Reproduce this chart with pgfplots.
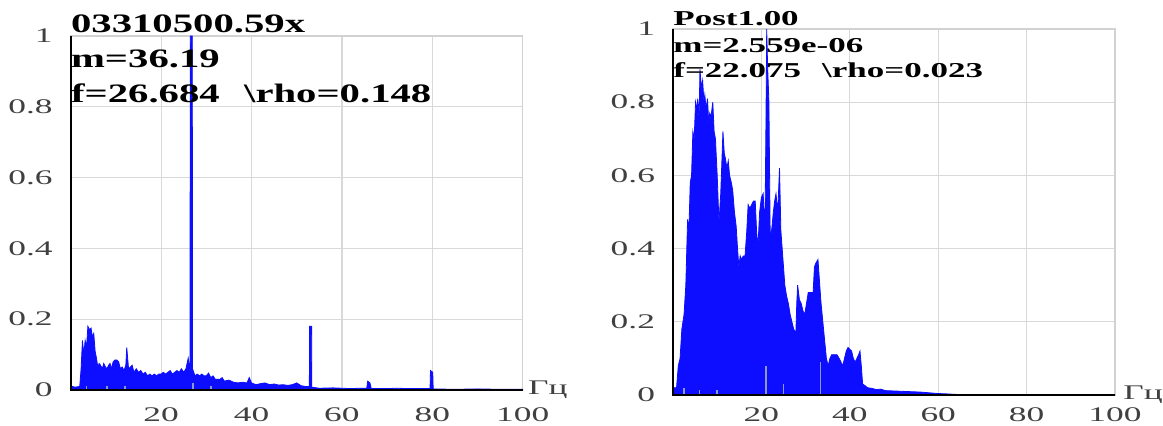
\documentclass[border=0pt]{standalone}
\usepackage{fontspec}
\setmainfont{Liberation Serif}
\usepackage{graphicx}
\usepackage{pgfplots}
\pgfplotsset{compat=1.18}
\newcommand\sx[1]{\scalebox{1.7}[1]{#1}}
\definecolor{sblue}{rgb}{0.05,0.05,1}
\definecolor{lblue}{rgb}{0.55,0.6,0.8}
\pgfplotsset{myax/.style={scale only axis, anchor=south west,
  xmin=0,xmax=100,ymin=0,ymax=1,
  xtick={0,20,40,60,80,100}, xticklabels={,\sx{20},\sx{40},\sx{60},\sx{80},\sx{100}},
  ytick={0,0.2,0.4,0.6,0.8,1}, yticklabels={\sx{0},\sx{0.2},\sx{0.4},\sx{0.6},\sx{0.8},\sx{1}},
  grid=major, major grid style={gray!30, line width=0.6pt},
  axis line style={gray!35, line width=0.6pt}, major tick length=0pt,
  tick label style={font=\fontsize{10.4}{12}\selectfont, text=black!75},
  yticklabel style={xshift=-5.5pt},
  clip=false}}
\begin{document}
\begin{tikzpicture}
\useasboundingbox (0,0) rectangle (581.5pt,212.5pt);
% ---------- left ----------
\begin{axis}[myax, at={(35.35pt,17.5pt)}, width=226pt, height=177pt, xticklabel style={yshift=-5.5pt}]
\addplot[draw=sblue, fill=sblue, line width=0.4pt] table {
x y
0 0.015
0.3 0.01
1 0.008
2 0.01
2.3 0.06
2.6 0.14
2.9 0.10
3.2 0.14
3.5 0.12
3.8 0.18
4.2 0.17
4.5 0.175
4.8 0.15
5.1 0.16
5.4 0.11
5.7 0.09
6.0 0.065
6.3 0.075
6.6 0.07
7.0 0.06
7.3 0.075
7.7 0.065
8.0 0.06
8.4 0.07
8.7 0.075
9.0 0.06
9.4 0.08
9.8 0.085
10.2 0.085
10.6 0.08
11.0 0.06
11.4 0.065
11.8 0.055
12.2 0.07
12.4 0.12
12.8 0.06
13.2 0.065
13.6 0.07
14.0 0.05
14.5 0.06
15.0 0.05
15.5 0.055
16.0 0.045
16.5 0.05
17.0 0.04
17.5 0.045
18.0 0.04
18.5 0.045
19.0 0.04
19.5 0.045
20.0 0.045
20.5 0.05
21.0 0.045
21.5 0.05
22.0 0.055
22.5 0.045
23.0 0.05
23.5 0.055
24.0 0.05
24.5 0.06
25.0 0.05
25.5 0.06
26.0 0.09
26.4 0.05
26.45 1.0
26.9 1.0
26.95 0.06
27.5 0.04
28.0 0.045
28.5 0.04
29.0 0.045
29.5 0.04
30.0 0.04
30.5 0.048
31.0 0.035
31.5 0.04
32.0 0.03
33.0 0.03
33.5 0.035
34.0 0.025
35.0 0.028
36.0 0.022
37.0 0.02
38.0 0.022
39.0 0.02
39.5 0.035
40.0 0.02
41.0 0.015
42.0 0.018
43.0 0.02
44.0 0.015
45.0 0.017
46.0 0.014
47.0 0.015
48.0 0.013
49.0 0.015
50.0 0.02
51.0 0.012
52.0 0.01
52.8 0.01
52.85 0.18
53.3 0.18
53.35 0.008
55 0.005
58 0.006
60 0.005
62 0.004
64 0.005
65.5 0.005
65.7 0.025
66.2 0.02
66.5 0.004
70 0.004
72 0.005
75 0.004
79.5 0.004
79.6 0.055
80.1 0.05
80.2 0.003
85 0.002
90 0.003
95 0.002
100 0.002
} \closedcycle;
\addplot[ycomb, draw=lblue, line width=0.8pt] table {
x y
3.5 0.012
8 0.01
12 0.01
27 0.02
31 0.01
};
\draw[black, line width=1.1pt] (rel axis cs:0,1) -- (rel axis cs:0,0) -- (rel axis cs:1,0);
\node[anchor=west, inner sep=0, font=\fontsize{10.4}{12}\selectfont, text=black!75] at ([xshift=2.5pt]rel axis cs:1,0) {\sx{Гц}};
\node[anchor=base west, inner sep=0, font=\bfseries\fontsize{13.3}{15}\selectfont] at ([yshift=2pt]rel axis cs:0,1) {\scalebox{1.53}[1]{03310500.59x}};
\node[anchor=base west, inner sep=0, font=\bfseries\fontsize{13.3}{15}\selectfont] at ([yshift=-15.5pt]rel axis cs:0,1) {\scalebox{1.53}[1]{m=36.19}};
\node[anchor=base west, inner sep=0, font=\bfseries\fontsize{13.3}{15}\selectfont] at ([yshift=-33pt]rel axis cs:0,1) {\scalebox{1.53}[1]{f=26.684\hspace{0.6em}\textbackslash rho=0.148}};
\end{axis}
% ---------- right ----------
\begin{axis}[myax, at={(336.5pt,15pt)}, width=221pt, height=183pt, xticklabel style={yshift=-3pt}]
\addplot[draw=sblue, fill=sblue, line width=0.4pt] table {
x y
0 0.02
0.8 0.02
1.2 0.08
1.6 0.1
2.0 0.18
2.5 0.22
2.9 0.3
3.3 0.48
3.6 0.45
3.9 0.58
4.2 0.6
4.5 0.72
4.8 0.7
5.1 0.8
5.4 0.78
5.6 0.81
5.9 0.75
6.1 0.89
6.4 0.84
6.7 0.86
7.0 0.8
7.2 0.82
7.5 0.78
7.8 0.81
8.1 0.74
8.3 0.77
8.6 0.76
9.0 0.8
9.3 0.72
9.6 0.7
10.0 0.6
10.4 0.47
10.8 0.55
11.3 0.72
11.6 0.66
11.8 0.65
12.2 0.62
12.5 0.64
12.8 0.6
13.2 0.58
13.5 0.56
13.9 0.5
14.3 0.46
14.6 0.4
14.9 0.35
15.2 0.38
15.5 0.37
15.9 0.38
16.3 0.38
16.7 0.45
17.0 0.52
17.4 0.51
17.8 0.52
18.2 0.53
18.6 0.53
18.9 0.45
19.2 0.4
19.6 0.5
20.0 0.54
20.4 0.55
20.8 0.45
21.0 0.7
21.2 1.0
21.4 0.9
21.7 0.8
22.0 0.42
22.4 0.46
22.7 0.5
23.0 0.53
23.3 0.55
23.7 0.5
24.1 0.62
24.4 0.45
24.7 0.4
25.0 0.35
25.3 0.3
25.7 0.27
26.1 0.25
26.5 0.22
26.9 0.2
27.3 0.18
27.8 0.17
28.0 0.25
28.2 0.3
28.6 0.26
29.0 0.25
29.4 0.23
29.8 0.22
30.2 0.25
30.6 0.28
31.2 0.28
31.7 0.28
32.0 0.35
32.3 0.36
32.8 0.37
33.2 0.3
33.5 0.25
33.9 0.2
34.3 0.15
34.7 0.1
35.1 0.08
35.5 0.1
35.9 0.11
36.5 0.11
37.1 0.11
37.6 0.1
38.0 0.09
38.4 0.08
38.8 0.1
39.2 0.12
39.6 0.13
40.0 0.125
40.4 0.12
40.8 0.1
41.2 0.09
41.6 0.1
42.0 0.11
42.3 0.12
42.6 0.08
42.9 0.03
43.5 0.025
44 0.02
45 0.018
46 0.015
47 0.016
48 0.012
50 0.011
52 0.01
54 0.009
56 0.008
58 0.006
60 0.004
62 0.003
65 0.001
70 0.0005
100 0
} \closedcycle;
\addplot[ycomb, draw=lblue, line width=0.8pt] table {
x y
2.5 0.02
6 0.015
10 0.015
21 0.08
25 0.03
33.4 0.09
};
\draw[black, line width=1.1pt] (rel axis cs:0,1) -- (rel axis cs:0,0) -- (rel axis cs:1,0);
\node[anchor=west, inner sep=0, font=\fontsize{10.4}{12}\selectfont, text=black!75] at ([xshift=4pt]rel axis cs:1,0) {\sx{Гц}};
\node[anchor=base west, inner sep=0, font=\bfseries\fontsize{10.6}{12}\selectfont] at ([yshift=2pt]rel axis cs:0,1) {\scalebox{1.65}[1]{Post1.00}};
\node[anchor=base west, inner sep=0, font=\bfseries\fontsize{10.6}{12}\selectfont] at ([yshift=-11.5pt]rel axis cs:0,1) {\scalebox{1.65}[1]{m=2.559e-06}};
\node[anchor=base west, inner sep=0, font=\bfseries\fontsize{10.6}{12}\selectfont] at ([yshift=-24pt]rel axis cs:0,1) {\scalebox{1.65}[1]{f=22.075\hspace{0.6em}\textbackslash rho=0.023}};
\end{axis}
\end{tikzpicture}
\end{document}
